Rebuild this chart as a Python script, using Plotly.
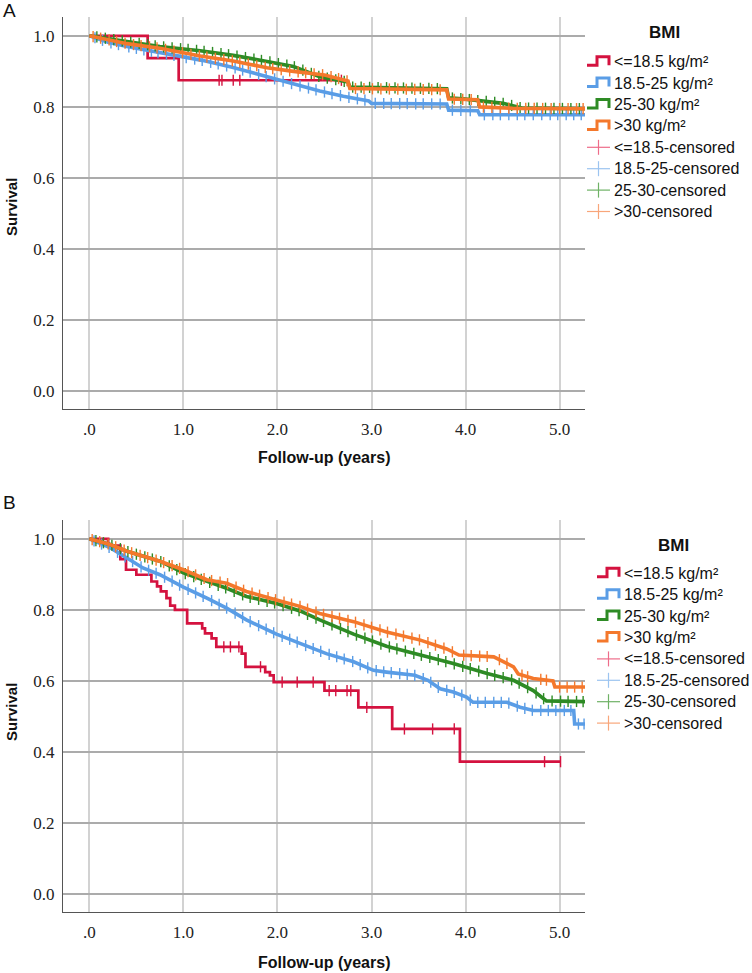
import numpy as np
import plotly.graph_objects as go

# ---------------- data ----------------
groups = ["<=18.5 kg/m²", "18.5-25 kg/m²", "25-30 kg/m²", ">30 kg/m²"]
censor_names = ["<=18.5-censored", "18.5-25-censored", "25-30-censored", ">30-censored"]
colors = ["#D4123F", "#5A9DE6", "#2E8B25", "#F4782C"]
x_tick_vals = [0, 1, 2, 3, 4, 5]
x_tick_text = [".0", "1.0", "2.0", "3.0", "4.0", "5.0"]
y_tick_vals = [0, 0.2, 0.4, 0.6, 0.8, 1.0]
y_tick_text = ["0.0", "0.2", "0.4", "0.6", "0.8", "1.0"]

# Panel A
a_red_t = [0.0, 0.62, 0.95, 2.68]
a_red_s = [1.0, 0.9375, 0.875, 0.875]
a_red_c = [1.38, 1.41, 1.53, 1.60, 2.68]

a_blue_t = [0, 0.2, 0.4, 0.75, 1.0, 1.2, 1.53, 1.9, 2.2, 2.45, 2.7, 2.97, 3.0, 3.80, 3.82, 4.13, 4.15, 5.27]
a_blue_s = [1.0, 0.982, 0.970, 0.952, 0.940, 0.931, 0.911, 0.884, 0.862, 0.845, 0.830, 0.817, 0.810, 0.808, 0.791, 0.789, 0.778, 0.778]
a_blue_c = [0.06, 0.14, 0.23, 0.31, 0.42, 0.5, 0.58, 0.66, 0.73, 0.82, 0.9, 1.03, 1.12, 1.2, 1.29, 1.37, 1.46,
            1.55, 1.63, 1.71, 1.8, 1.88, 1.97, 2.06, 2.15, 2.24, 2.33, 2.41, 2.5, 2.58, 2.67, 2.76, 2.85, 2.93,
            3.04, 3.13, 3.21, 3.3, 3.38, 3.47, 3.55, 3.64, 3.73, 3.86, 3.95, 4.05, 4.2, 4.29, 4.37, 4.46, 4.55,
            4.63, 4.72, 4.81, 4.9, 4.98, 5.07, 5.15, 5.23]

a_green_t = [0, 0.4, 0.75, 1.18, 1.53, 1.89, 2.17, 2.45, 2.75, 2.77, 3.80, 3.82, 4.0, 4.4, 4.6, 5.27]
a_green_s = [1.0, 0.984, 0.970, 0.958, 0.945, 0.928, 0.914, 0.885, 0.870, 0.856, 0.851, 0.826, 0.822, 0.810, 0.797, 0.795]
a_green_c = [0.08, 0.17, 0.26, 0.35, 0.44, 0.53, 0.62, 0.7, 0.79, 0.88, 0.97, 1.05, 1.14, 1.22, 1.31, 1.4, 1.48,
             1.57, 1.66, 1.75, 1.83, 1.92, 2.01, 2.1, 2.18, 2.27, 2.36, 2.44, 2.53, 2.62, 2.71, 2.8, 2.89, 2.98,
             3.07, 3.16, 3.25, 3.34, 3.43, 3.52, 3.61, 3.7, 3.86, 3.95, 4.04, 4.13, 4.22, 4.31, 4.4, 4.49, 4.58,
             4.67, 4.76, 4.85, 4.94, 5.03, 5.12, 5.21]

a_orange_t = [0, 0.4, 0.75, 1.18, 1.53, 1.89, 2.17, 2.5, 2.75, 2.77, 3.80, 3.82, 4.13, 4.15, 4.5, 5.27]
a_orange_s = [1.0, 0.978, 0.965, 0.943, 0.929, 0.910, 0.900, 0.890, 0.873, 0.852, 0.848, 0.822, 0.820, 0.800, 0.796, 0.795]
a_orange_c = [0.04, 0.12, 0.21, 0.29, 0.38, 0.47, 0.55, 0.64, 0.72, 0.81, 0.9, 0.99, 1.08, 1.17, 1.25, 1.34,
              1.43, 1.52, 1.6, 1.69, 1.78, 1.87, 1.95, 2.04, 2.13, 2.22, 2.3, 2.39, 2.48, 2.57, 2.65, 2.74, 2.83,
              2.92, 3.01, 3.1, 3.19, 3.28, 3.37, 3.46, 3.55, 3.64, 3.73, 3.88, 3.97, 4.06, 4.19, 4.28, 4.37,
              4.46, 4.55, 4.64, 4.73, 4.82, 4.91, 5.0, 5.09, 5.18, 5.25]

# Panel B
b_red_t = [0, 0.20, 0.33, 0.39, 0.50, 0.66, 0.72, 0.76, 0.82, 0.86, 0.91, 1.04, 1.20, 1.23, 1.30, 1.35, 1.62,
           1.66, 1.87, 1.92, 1.96, 2.50, 2.86, 3.22, 3.94, 5.01]
b_red_s = [1.0, 0.981, 0.943, 0.913, 0.899, 0.880, 0.866, 0.852, 0.833, 0.812, 0.800, 0.762, 0.748, 0.734,
           0.720, 0.696, 0.677, 0.640, 0.625, 0.616, 0.597, 0.573, 0.526, 0.465, 0.373, 0.373]
b_red_c = [1.43, 1.50, 1.59, 1.82, 2.05, 2.21, 2.38, 2.55, 2.62, 2.74, 2.78, 2.95, 3.35, 3.65, 3.88, 4.84, 5.01]

b_blue_t = [0, 0.22, 0.4, 0.57, 0.75, 1.0, 1.25, 1.46, 1.67, 1.99, 2.24, 2.52, 2.81, 3.02, 3.16, 3.46, 3.6,
            3.73, 3.87, 4.01, 4.08, 4.44, 4.58, 4.72, 5.15, 5.16, 5.27]
b_blue_s = [1.0, 0.975, 0.946, 0.918, 0.899, 0.864, 0.833, 0.805, 0.772, 0.732, 0.706, 0.677, 0.654, 0.630,
            0.625, 0.616, 0.602, 0.578, 0.569, 0.555, 0.540, 0.540, 0.526, 0.517, 0.517, 0.479, 0.479]
b_blue_c = [0.05, 0.13, 0.21, 0.3, 0.38, 0.46, 0.55, 0.63, 0.71, 0.8, 0.88, 0.96, 1.05, 1.13, 1.21, 1.3, 1.38,
            1.46, 1.55, 1.63, 1.71, 1.8, 1.88, 1.96, 2.05, 2.13, 2.21, 2.3, 2.38, 2.46, 2.55, 2.63, 2.71, 2.8,
            2.88, 2.96, 3.05, 3.13, 3.21, 3.3, 3.38, 3.46, 3.55, 3.63, 3.71, 3.8, 3.88, 3.96, 4.05, 4.13, 4.21,
            4.3, 4.38, 4.46, 4.55, 4.63, 4.71, 4.8, 4.88, 4.96, 5.05, 5.12, 5.2, 5.26]

b_green_t = [0, 0.22, 0.4, 0.57, 0.75, 1.0, 1.25, 1.46, 1.67, 1.99, 2.24, 2.45, 2.81, 3.16, 3.52, 3.87, 4.23,
             4.51, 4.72, 4.86, 5.27]
b_green_s = [1.0, 0.984, 0.965, 0.951, 0.937, 0.904, 0.880, 0.861, 0.838, 0.818, 0.797, 0.772, 0.732, 0.698,
             0.673, 0.649, 0.621, 0.602, 0.573, 0.544, 0.542]
b_green_c = [0.07, 0.15, 0.24, 0.33, 0.41, 0.5, 0.59, 0.67, 0.76, 0.85, 0.93, 1.02, 1.11, 1.19, 1.28, 1.37,
             1.45, 1.54, 1.63, 1.71, 1.8, 1.89, 1.97, 2.06, 2.15, 2.23, 2.32, 2.41, 2.49, 2.58, 2.67, 2.75,
             2.84, 2.93, 3.01, 3.1, 3.19, 3.27, 3.36, 3.45, 3.53, 3.62, 3.71, 3.79, 3.88, 3.97, 4.05, 4.14,
             4.23, 4.31, 4.4, 4.49, 4.57, 4.66, 4.75, 4.83, 4.92, 5.01, 5.09, 5.18, 5.25]

b_orange_t = [0, 0.22, 0.4, 0.57, 0.75, 1.0, 1.25, 1.46, 1.67, 1.99, 2.24, 2.45, 2.81, 3.16, 3.52, 3.80,
              3.93, 4.30, 4.51, 4.56, 4.72, 4.93, 4.95, 5.27]
b_orange_s = [1.0, 0.984, 0.965, 0.951, 0.937, 0.913, 0.885, 0.875, 0.852, 0.828, 0.810, 0.790, 0.767, 0.738,
              0.715, 0.690, 0.673, 0.668, 0.640, 0.620, 0.607, 0.600, 0.583, 0.583]
b_orange_c = [0.03, 0.11, 0.2, 0.28, 0.37, 0.45, 0.54, 0.62, 0.71, 0.79, 0.88, 0.96, 1.05, 1.13, 1.22, 1.3,
              1.39, 1.47, 1.56, 1.64, 1.73, 1.81, 1.9, 1.98, 2.07, 2.15, 2.24, 2.32, 2.41, 2.49, 2.58, 2.66,
              2.75, 2.83, 2.92, 3.0, 3.09, 3.17, 3.26, 3.34, 3.43, 3.51, 3.6, 3.68, 3.77, 3.86, 3.98, 4.06,
              4.15, 4.23, 4.36, 4.44, 4.6, 4.66, 4.8, 4.86, 5.0, 5.08, 5.16, 5.24]

panel_a = [(a_red_t, a_red_s, a_red_c), (a_blue_t, a_blue_s, a_blue_c),
           (a_green_t, a_green_s, a_green_c), (a_orange_t, a_orange_s, a_orange_c)]
panel_b = [(b_red_t, b_red_s, b_red_c), (b_blue_t, b_blue_s, b_blue_c),
           (b_green_t, b_green_s, b_green_c), (b_orange_t, b_orange_s, b_orange_c)]

# ---------------- figure ----------------
W, H = 752, 973


def X(px):
    return px / W


def Y(py):
    return 1 - py / H


def step_value(ts, ss, t):
    idx = 0
    for i, tv in enumerate(ts):
        if tv <= t:
            idx = i
    return ss[idx]


fig = go.Figure()

for panel, (xa, ya) in ((panel_a, ("x", "y")), (panel_b, ("x2", "y2"))):
    for gi, (ts, ss, cs) in enumerate(panel):
        is_step = gi == 0
        fig.add_trace(go.Scatter(
            x=ts, y=ss, mode="lines", xaxis=xa, yaxis=ya,
            line=dict(color=colors[gi], width=2.7 if is_step else 3.6,
                      shape="hv" if is_step else "linear"),
            showlegend=False, hoverinfo="skip"))
        if is_step:
            cy = [step_value(ts, ss, c) for c in cs]
        else:
            cy = list(np.interp(cs, ts, ss))
        fig.add_trace(go.Scatter(
            x=cs, y=cy, mode="markers", xaxis=xa, yaxis=ya,
            marker=dict(symbol="line-ns", size=8,
                        line=dict(color=colors[gi], width=1.4)),
            showlegend=False, hoverinfo="skip"))

grid_h = "#ababab"
grid_v = "#d2d2d2"
tick_font = dict(family="Liberation Serif, DejaVu Serif, serif", size=17, color="#222")

common_x = dict(range=[-0.28, 5.27], tickvals=x_tick_vals, ticktext=x_tick_text,
                showgrid=True, gridcolor=grid_v, gridwidth=1.6, zeroline=False,
                showline=True, linecolor="#555", linewidth=1.2, ticks="", tickfont=tick_font,
                ticklabelstandoff=4, fixedrange=True)
common_y = dict(range=[-0.05, 1.053], tickvals=y_tick_vals, ticktext=y_tick_text,
                showgrid=True, gridcolor=grid_h, gridwidth=1.6, zeroline=False,
                showline=True, linecolor="#555", linewidth=1.2, ticks="", tickfont=tick_font,
                ticklabelstandoff=4, fixedrange=True)

fig.update_layout(
    width=W, height=H,
    margin=dict(l=0, r=0, t=0, b=0),
    paper_bgcolor="white", plot_bgcolor="white",
    xaxis=dict(domain=[X(63), X(585)], anchor="y", **common_x),
    yaxis=dict(domain=[Y(409), Y(17)], anchor="x", **common_y),
    xaxis2=dict(domain=[X(63), X(585)], anchor="y2", **common_x),
    yaxis2=dict(domain=[Y(912), Y(520)], anchor="x2", **common_y),
    showlegend=False,
)

sans = "Liberation Sans, Arial, sans-serif"
annotations = []
shapes = []

# panel letters, axis titles
for letter, (lx, ly) in (("A", (1, 11)), ("B", (1, 502))):
    annotations.append(dict(text=letter, x=X(lx), y=Y(ly), xref="paper", yref="paper",
                            xanchor="left", yanchor="middle", showarrow=False,
                            font=dict(family=sans, size=19, color="#111")))
for ty in (207, 712):
    annotations.append(dict(text="<b>Survival</b>", x=X(11), y=Y(ty), xref="paper", yref="paper",
                            textangle=-90, xanchor="center", yanchor="middle", showarrow=False,
                            font=dict(family=sans, size=15, color="#111")))
for ty in (457, 962):
    annotations.append(dict(text="<b>Follow-up (years)</b>", x=X(324), y=Y(ty), xref="paper",
                            yref="paper", xanchor="center", yanchor="middle", showarrow=False,
                            font=dict(family=sans, size=16, color="#111")))

# legends
legend_specs = [dict(title=(664, 33), sym_x=587, text_x=612, row0=61.7),
                dict(title=(673, 545), sym_x=597, text_x=622, row0=573.3)]
light = ["#EE6D8A", "#9CC4F0", "#6FB266", "#F8A67A"]
for spec in legend_specs:
    tx, ty = spec["title"]
    annotations.append(dict(text="<b>BMI</b>", x=X(tx), y=Y(ty), xref="paper", yref="paper",
                            xanchor="center", yanchor="middle", showarrow=False,
                            font=dict(family=sans, size=17, color="#111")))
    sx = spec["sym_x"]
    for i in range(8):
        ry = spec["row0"] + 21.4 * i
        gi = i % 4
        label = groups[gi] if i < 4 else censor_names[gi]
        annotations.append(dict(text=label, x=X(spec["text_x"]), y=Y(ry), xref="paper", yref="paper",
                                xanchor="left", yanchor="middle", showarrow=False,
                                font=dict(family=sans, size=16, color="#111")))
        if i < 4:
            path = "M {} {} L {} {} L {} {} L {} {} L {} {}".format(
                X(sx), Y(ry + 3.5), X(sx + 10), Y(ry + 3.5), X(sx + 10), Y(ry - 5),
                X(sx + 22), Y(ry - 5), X(sx + 22), Y(ry + 3.5))
            shapes.append(dict(type="path", path=path, xref="paper", yref="paper",
                               line=dict(color=colors[gi], width=3)))
        else:
            shapes.append(dict(type="line", xref="paper", yref="paper",
                               x0=X(sx), x1=X(sx + 23), y0=Y(ry), y1=Y(ry),
                               line=dict(color=light[gi], width=1.2)))
            shapes.append(dict(type="line", xref="paper", yref="paper",
                               x0=X(sx + 11.5), x1=X(sx + 11.5), y0=Y(ry - 7.5), y1=Y(ry + 7.5),
                               line=dict(color=light[gi], width=1.2)))

fig.update_layout(annotations=annotations, shapes=shapes)

fig.write_html("out.html", config=dict(displayModeBar=False),
               post_script="document.body.style.margin='0';")
